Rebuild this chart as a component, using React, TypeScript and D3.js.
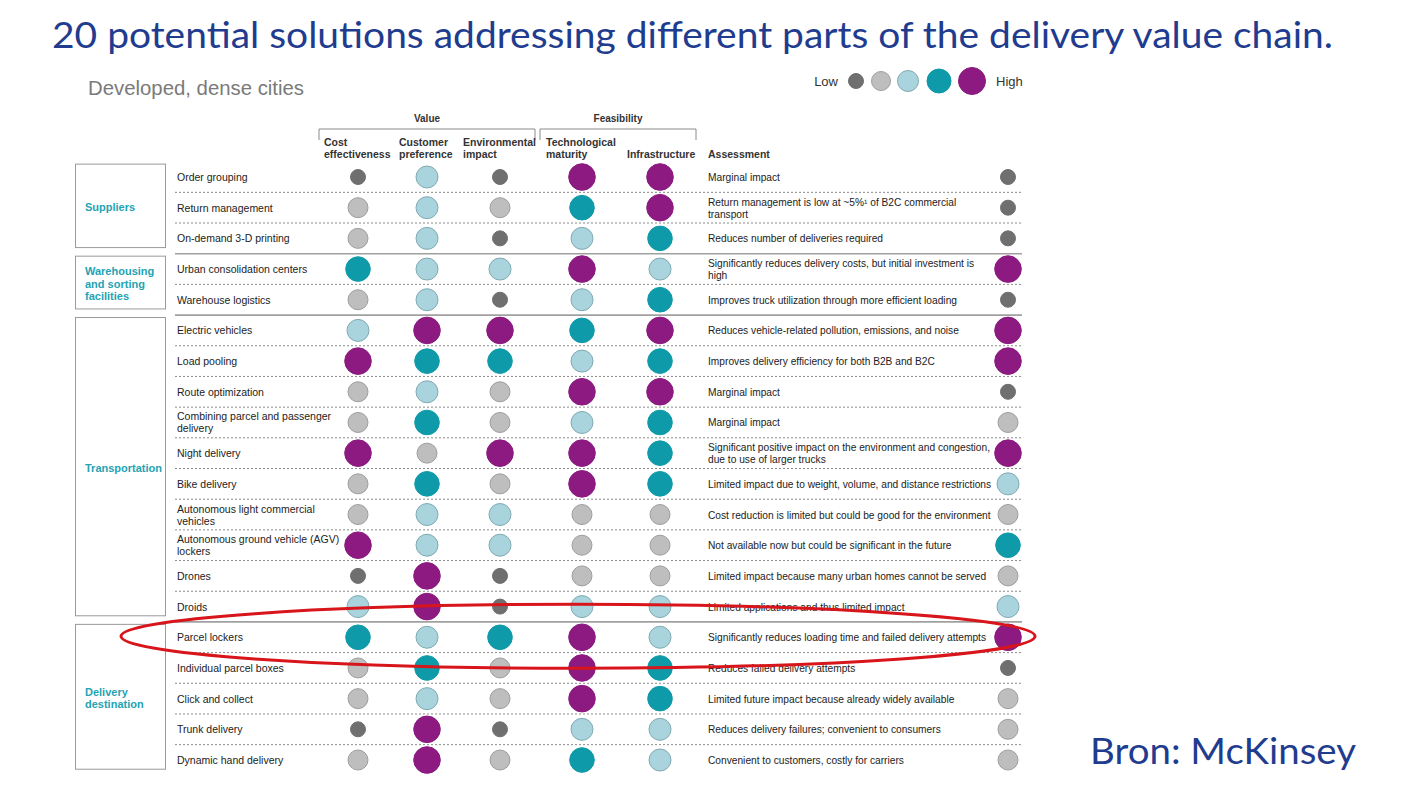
import React from "react";
import * as d3 from "d3";

const titleText = "20 potential solutions addressing different parts of the delivery value chain.";
const sourceText = "Bron: McKinsey";
const subtitleText = "Developed, dense cities";

const groups = ["Suppliers", "Warehousing and sorting facilities", "Transportation", "Delivery destination"];
const groupLabelLines = [["Suppliers"], ["Warehousing", "and sorting", "facilities"], ["Transportation"], ["Delivery", "destination"]];

const solutions = [
  "Order grouping", "Return management", "On-demand 3-D printing",
  "Urban consolidation centers", "Warehouse logistics",
  "Electric vehicles", "Load pooling", "Route optimization", "Combining parcel and passenger delivery",
  "Night delivery", "Bike delivery", "Autonomous light commercial vehicles",
  "Autonomous ground vehicle (AGV) lockers", "Drones", "Droids",
  "Parcel lockers", "Individual parcel boxes", "Click and collect", "Trunk delivery", "Dynamic hand delivery",
];
const solutionLines = [
  ["Order grouping"], ["Return management"], ["On-demand 3-D printing"],
  ["Urban consolidation centers"], ["Warehouse logistics"],
  ["Electric vehicles"], ["Load pooling"], ["Route optimization"], ["Combining parcel and passenger", "delivery"],
  ["Night delivery"], ["Bike delivery"], ["Autonomous light commercial", "vehicles"],
  ["Autonomous ground vehicle (AGV)", "lockers"], ["Drones"], ["Droids"],
  ["Parcel lockers"], ["Individual parcel boxes"], ["Click and collect"], ["Trunk delivery"], ["Dynamic hand delivery"],
];
const solutionGroup = [0, 0, 0, 1, 1, 2, 2, 2, 2, 2, 2, 2, 2, 2, 2, 3, 3, 3, 3, 3];

const columns = ["cost", "customer", "environment", "tech", "infra"];
const columnHeaders = [["Cost", "effectiveness"], ["Customer", "preference"], ["Environmental", "impact"], ["Technological", "maturity"], ["Infrastructure"]];
const headerGroups = ["Value", "Feasibility"];

// levels 1 (low) .. 5 (high)
const costEffectiveness = [1, 2, 2, 4, 2, 3, 5, 2, 2, 5, 2, 2, 5, 1, 3, 4, 2, 2, 1, 2];
const customerPreference = [3, 3, 3, 3, 3, 5, 4, 3, 4, 2, 4, 3, 3, 5, 5, 3, 4, 3, 5, 5];
const environmentalImpact = [1, 2, 1, 3, 1, 5, 4, 2, 2, 5, 2, 3, 3, 1, 1, 4, 2, 2, 1, 2];
const technologicalMaturity = [5, 4, 3, 5, 3, 4, 3, 5, 3, 5, 5, 2, 2, 2, 3, 5, 5, 5, 3, 4];
const infrastructure = [5, 5, 4, 3, 4, 5, 4, 5, 4, 4, 4, 2, 2, 2, 3, 3, 4, 4, 3, 3];
const assessmentLevel = [1, 1, 1, 5, 1, 5, 5, 1, 2, 5, 3, 2, 4, 2, 3, 5, 1, 2, 2, 2];
const assessmentLines = [
  ["Marginal impact"],
  ["Return management  is low at ~5%\u00B9 of B2C commercial", "transport"],
  ["Reduces number of deliveries required"],
  ["Significantly reduces delivery costs, but initial investment is", "high"],
  ["Improves truck utilization through more efficient loading"],
  ["Reduces vehicle-related pollution, emissions, and noise"],
  ["Improves delivery efficiency for both B2B and B2C"],
  ["Marginal impact"],
  ["Marginal impact"],
  ["Significant positive impact on the environment and congestion,", "due to use of larger trucks"],
  ["Limited impact due to weight, volume, and distance restrictions"],
  ["Cost reduction is limited but could be good for the environment"],
  ["Not available now but could be significant in the future"],
  ["Limited impact because many urban homes cannot be served"],
  ["Limited applications and thus limited impact"],
  ["Significantly reduces loading time and failed delivery attempts"],
  ["Reduces failed delivery attempts"],
  ["Limited future impact because already widely available"],
  ["Reduces delivery failures; convenient to consumers"],
  ["Convenient to customers, costly for carriers"],
];
const levels = [1, 2, 3, 4, 5];
const legendLabels = ["Low", "High"];
const highlightedSolution = "Parcel lockers";

const columnValues = [costEffectiveness, customerPreference, environmentalImpact, technologicalMaturity, infrastructure];

const FONT = "'Liberation Sans', Arial, sans-serif";
const NAVY = "#1f3c8f";
const TEAL_TEXT = "#24a3b3";

const fillScale = d3.scaleOrdinal<number, string>().domain(levels).range(["#6f6f6f", "#bebebe", "#aad4dd", "#0e9aa8", "#8c1a80"]);
const strokeScale = d3.scaleOrdinal<number, string>().domain(levels).range(["#6f6f6f", "#9e9e9e", "#80aab3", "#0e9aa8", "#8c1a80"]);
const rScale = d3.scaleOrdinal<number, number>().domain(levels).range([7.5, 10, 11, 12.3, 13.3]);
const legendR = d3.scaleOrdinal<number, number>().domain(levels).range([7.5, 9.5, 10.5, 12, 13.5]);

export default function App() {
  const W = 1422, H = 800;
  const y = d3.scalePoint<string>().domain(solutions).range([177, 760]);
  const step = y.step();
  const colX = d3.scaleOrdinal<string, number>().domain(columns).range([358, 427, 500, 582, 660]);
  const assessX = 1008;
  const legendXs = [856, 881, 908, 939, 972];

  const groupExtents = groups.map((g, gi) => {
    const idx = solutions.map((_, i) => i).filter((i) => solutionGroup[i] === gi);
    return { gi, first: idx[0], last: idx[idx.length - 1] };
  });

  const lineLeft = 175, lineRight = 1022;

  return (
    <svg width={W} height={H} style={{ display: "block", position: "absolute", left: 0, top: 0, background: "#fff" }}>
      <rect x={0} y={0} width={W} height={H} fill="#fff" />
      <text x={52} y={48} fill={NAVY} fontFamily="Lato, 'Open Sans', sans-serif" fontSize={37} textLength={1281} lengthAdjust="spacingAndGlyphs">{titleText}</text>
      <text x={1090} y={764} fill={NAVY} fontFamily="Lato, 'Open Sans', sans-serif" fontSize={36} textLength={266} lengthAdjust="spacingAndGlyphs">{sourceText}</text>
      <text x={88} y={95} fill="#7a7a7a" fontFamily={FONT} fontSize={20} textLength={216} lengthAdjust="spacingAndGlyphs">{subtitleText}</text>

      {/* legend */}
      <text x={838} y={86} textAnchor="end" fontFamily={FONT} fontSize={13} fill="#333">{legendLabels[0]}</text>
      {levels.map((l, i) => (
        <circle key={l} cx={legendXs[i]} cy={81} r={legendR(l)} fill={fillScale(l)} stroke={strokeScale(l)} strokeWidth={1} />
      ))}
      <text x={996} y={86} fontFamily={FONT} fontSize={13} fill="#333">{legendLabels[1]}</text>

      {/* header groups */}
      {headerGroups.map((h, hi) => {
        const x0 = hi === 0 ? 319 : 540;
        const x1 = hi === 0 ? 535 : 696;
        return (
          <g key={h}>
            <text x={(x0 + x1) / 2} y={122} textAnchor="middle" fontFamily={FONT} fontSize={10} fontWeight="bold" fill="#333">{h}</text>
            <path d={`M${x0},140V129H${x1}V140`} fill="none" stroke="#8a8a8a" strokeWidth={1} />
          </g>
        );
      })}
      {columns.map((c, ci) => {
        const xs = [324, 399, 463, 546, 627];
        const lines = columnHeaders[ci];
        return (
          <text key={c} fontFamily={FONT} fontSize={10.5} fontWeight="bold" fill="#333">
            {lines.map((ln, li) => (
              <tspan key={li} x={xs[ci]} y={lines.length === 1 ? 158 : 146 + li * 12}>{ln}</tspan>
            ))}
          </text>
        );
      })}
      <text x={708} y={158} fontFamily={FONT} fontSize={10.5} fontWeight="bold" fill="#333">Assessment</text>

      {/* group boxes */}
      {groupExtents.map(({ gi, first, last }) => {
        const top = y(solutions[first])! - step * 0.42;
        const bottom = y(solutions[last])! + step * 0.3;
        const lines = groupLabelLines[gi];
        const cy = (top + bottom) / 2;
        return (
          <g key={gi}>
            <rect x={75.5} y={top} width={90} height={bottom - top} fill="none" stroke="#9a9a9a" strokeWidth={1} />
            <text fontFamily={FONT} fontSize={11} fontWeight="bold" fill={TEAL_TEXT}>
              {lines.map((ln, li) => (
                <tspan key={li} x={85} y={cy + 5 + (li - (lines.length - 1) / 2) * 12.3}>{ln}</tspan>
              ))}
            </text>
          </g>
        );
      })}

      {/* separators */}
      {solutions.slice(1).map((s, k) => {
        const i = k + 1;
        const yy = (y(solutions[i - 1])! + y(s)!) / 2;
        const groupBreak = solutionGroup[i] !== solutionGroup[i - 1];
        return groupBreak ? (
          <line key={s} x1={lineLeft} x2={lineRight} y1={yy} y2={yy} stroke="#a0a0a0" strokeWidth={1.6} />
        ) : (
          <line key={s} x1={lineLeft} x2={lineRight} y1={yy} y2={yy} stroke="#8a8a8a" strokeWidth={1} strokeDasharray="2,2" />
        );
      })}

      {/* rows */}
      {solutions.map((s, i) => {
        const yy = y(s)!;
        const lines = solutionLines[i];
        const alines = assessmentLines[i];
        return (
          <g key={s}>
            <text fontFamily={FONT} fontSize={10.5} fill="#222">
              {lines.map((ln, li) => (
                <tspan key={li} x={177} y={yy + 4 + (li - (lines.length - 1) / 2) * 12}>{ln}</tspan>
              ))}
            </text>
            {columns.map((c, ci) => {
              const v = columnValues[ci][i];
              return <circle key={c} cx={colX(c)} cy={yy} r={rScale(v)} fill={fillScale(v)} stroke={strokeScale(v)} strokeWidth={1} />;
            })}
            <text fontFamily={FONT} fontSize={10.2} fill="#222">
              {alines.map((ln, li) => (
                <tspan key={li} x={708} y={yy + 4 + (li - (alines.length - 1) / 2) * 12}>{ln}</tspan>
              ))}
            </text>
            <circle cx={assessX} cy={yy} r={rScale(assessmentLevel[i])} fill={fillScale(assessmentLevel[i])} stroke={strokeScale(assessmentLevel[i])} strokeWidth={1} />
          </g>
        );
      })}

      {/* highlight ellipse */}
      <ellipse cx={578} cy={y(highlightedSolution)! - 1} rx={457} ry={32} fill="none" stroke="#d7151b" strokeWidth={3} />
    </svg>
  );
}
